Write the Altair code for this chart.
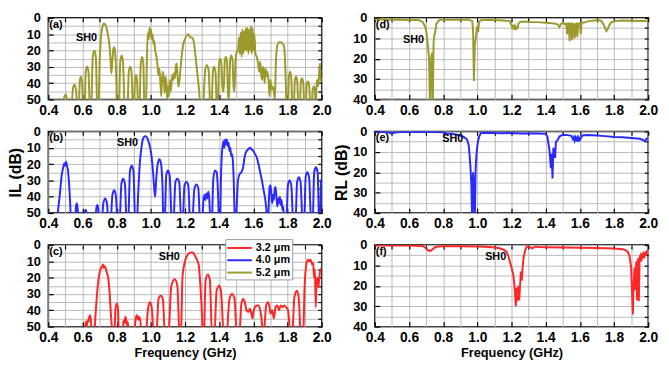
import altair as alt
import pandas as pd

FONT = "Liberation Sans"
SERIES = ["3.2 μm", "4.0 μm", "5.2 μm"]
COLORS = ["#ff2626", "#2a2aff", "#9d9a2d"]

X_TICKS = [0.4, 0.6, 0.8, 1.0, 1.2, 1.4, 1.6, 1.8, 2.0]
X_MINOR = [0.4, 0.5, 0.6, 0.7, 0.8, 0.9, 1.0, 1.1, 1.2, 1.3, 1.4, 1.5, 1.6, 1.7, 1.8, 1.9, 2.0]
IL_TICKS = [0, 10, 20, 30, 40, 50]
IL_MINOR = [0, 5, 10, 15, 20, 25, 30, 35, 40, 45, 50]
RL_TICKS = [0, 10, 20, 30, 40]
RL_MINOR = [0, 5, 10, 15, 20, 25, 30, 35, 40]

# (a) IL, 5.2 um  -- (frequency GHz, dB)
A_IL = [
    (0.480, 60), (0.495, 48), (0.505, 47), (0.515, 60),
    (0.530, 60), (0.545, 43), (0.553, 41), (0.562, 44), (0.572, 60),
    (0.577, 60), (0.584, 39), (0.590, 36), (0.597, 39), (0.606, 60),
    (0.611, 60), (0.619, 33), (0.627, 30), (0.635, 33), (0.645, 60),
    (0.650, 60), (0.660, 24), (0.670, 20), (0.678, 24), (0.688, 60),
    (0.693, 60), (0.700, 28), (0.708, 12), (0.716, 6), (0.724, 3.5), (0.732, 4), (0.740, 6),
    (0.748, 10), (0.756, 15), (0.763, 24), (0.769, 34), (0.775, 26), (0.781, 19), (0.786, 18),
    (0.792, 22), (0.798, 38), (0.803, 60),
    (0.812, 60), (0.821, 27), (0.829, 23), (0.837, 27), (0.848, 60),
    (0.862, 60), (0.871, 33), (0.879, 30), (0.887, 33), (0.897, 60),
    (0.901, 60), (0.907, 38), (0.913, 35), (0.919, 38), (0.928, 60),
    (0.932, 60), (0.941, 28), (0.949, 24), (0.956, 28), (0.964, 60),
    (0.970, 60), (0.977, 25), (0.983, 9), (0.988, 13), (0.992, 6), (0.996, 11), (1.000, 7),
    (1.005, 13), (1.010, 10), (1.015, 16), (1.020, 14), (1.025, 20), (1.030, 22), (1.038, 28),
    (1.044, 35), (1.050, 31), (1.056, 40), (1.061, 48), (1.066, 37), (1.071, 33), (1.076, 38),
    (1.081, 46), (1.086, 36), (1.091, 40), (1.096, 50), (1.101, 42), (1.106, 48), (1.111, 38),
    (1.116, 45), (1.121, 40), (1.126, 35), (1.131, 38), (1.136, 34), (1.141, 37), (1.146, 30),
    (1.151, 28), (1.156, 35), (1.161, 42), (1.166, 40), (1.172, 33), (1.180, 24), (1.190, 16),
    (1.200, 13), (1.210, 11), (1.220, 10), (1.230, 12), (1.240, 12), (1.250, 14), (1.258, 20),
    (1.265, 27), (1.274, 36), (1.283, 45), (1.292, 60),
    (1.302, 60), (1.318, 32), (1.328, 29), (1.338, 32), (1.350, 60),
    (1.354, 60), (1.363, 33), (1.370, 30), (1.378, 33), (1.388, 60),
    (1.391, 60), (1.399, 28), (1.406, 25), (1.413, 28), (1.420, 45),
    (1.426, 45), (1.433, 26), (1.439, 24), (1.446, 27), (1.452, 50),
    (1.457, 50), (1.464, 26), (1.471, 23), (1.478, 26), (1.485, 45),
    (1.489, 45), (1.496, 25), (1.502, 21), (1.510, 20), (1.516, 12), (1.521, 22), (1.526, 9),
    (1.531, 24), (1.536, 7), (1.541, 22), (1.546, 8), (1.551, 20), (1.556, 6), (1.561, 20),
    (1.566, 6), (1.571, 22), (1.576, 7), (1.581, 20), (1.586, 5), (1.591, 22), (1.596, 6),
    (1.601, 20), (1.606, 10), (1.612, 22), (1.620, 24), (1.628, 28), (1.634, 33), (1.640, 27),
    (1.646, 35), (1.651, 38), (1.656, 30), (1.661, 33), (1.666, 40), (1.671, 31), (1.676, 36),
    (1.682, 33), (1.690, 40), (1.695, 48), (1.700, 38), (1.706, 44), (1.712, 42), (1.720, 45),
    (1.726, 50), (1.731, 30), (1.736, 20), (1.743, 16), (1.752, 15), (1.762, 15), (1.771, 16),
    (1.779, 17), (1.785, 25), (1.790, 40), (1.795, 60),
    (1.801, 60), (1.808, 36), (1.815, 33), (1.822, 37), (1.830, 60),
    (1.835, 60), (1.843, 38), (1.850, 36), (1.857, 39), (1.865, 60),
    (1.870, 60), (1.878, 39), (1.885, 37), (1.892, 40), (1.900, 60),
    (1.905, 60), (1.912, 41), (1.920, 39), (1.927, 42), (1.935, 60),
    (1.940, 60), (1.947, 44), (1.954, 42), (1.960, 45), (1.965, 55), (1.970, 40), (1.975, 38),
    (1.980, 42), (1.985, 33), (1.990, 28), (1.995, 39), (2.000, 37),
]

# (b) IL, 4.0 um
B_IL = [
    (0.440, 60), (0.455, 50), (0.468, 38), (0.478, 27), (0.487, 22), (0.494, 19.5), (0.499, 21),
    (0.504, 18.5), (0.509, 21), (0.514, 23), (0.520, 30), (0.528, 44), (0.535, 60),
    (0.555, 60), (0.562, 46), (0.567, 44), (0.572, 48), (0.578, 60),
    (0.600, 60), (0.612, 50), (0.618, 48), (0.624, 50), (0.630, 60),
    (0.674, 60), (0.681, 47), (0.687, 45), (0.693, 48), (0.700, 60),
    (0.710, 60), (0.722, 44), (0.733, 41), (0.743, 44), (0.755, 60),
    (0.762, 60), (0.775, 39), (0.785, 36), (0.795, 39), (0.808, 60),
    (0.815, 60), (0.828, 32), (0.838, 29), (0.848, 32), (0.860, 60),
    (0.866, 60), (0.878, 24), (0.888, 21), (0.898, 24), (0.910, 60),
    (0.916, 60), (0.926, 38), (0.936, 19), (0.946, 9), (0.956, 4), (0.966, 3), (0.976, 3.5),
    (0.986, 6), (0.996, 10), (1.005, 16), (1.013, 25), (1.019, 34), (1.025, 40),
    (1.031, 30), (1.040, 20), (1.050, 17), (1.060, 20), (1.068, 33), (1.075, 60),
    (1.080, 60), (1.090, 27), (1.100, 24), (1.110, 27), (1.125, 60),
    (1.130, 60), (1.144, 31), (1.155, 29), (1.166, 31), (1.180, 60),
    (1.185, 60), (1.197, 33), (1.208, 31), (1.219, 33), (1.232, 60),
    (1.240, 60), (1.255, 35), (1.267, 32.5), (1.278, 35), (1.290, 60),
    (1.298, 60), (1.308, 42), (1.314, 39), (1.320, 42), (1.325, 38), (1.330, 41), (1.336, 37),
    (1.341, 40), (1.346, 50), (1.351, 60),
    (1.356, 60), (1.365, 30), (1.375, 24), (1.385, 25), (1.394, 40), (1.400, 60),
    (1.405, 60), (1.410, 30), (1.415, 15), (1.420, 9), (1.425, 6), (1.430, 10), (1.435, 5),
    (1.440, 8), (1.445, 5), (1.450, 9), (1.455, 7), (1.460, 12), (1.465, 10), (1.470, 15),
    (1.475, 14), (1.480, 18), (1.485, 30), (1.490, 50), (1.495, 60),
    (1.501, 50), (1.510, 30), (1.520, 26), (1.530, 25), (1.540, 22), (1.550, 15), (1.560, 12),
    (1.570, 11), (1.580, 10), (1.590, 11), (1.600, 12), (1.610, 14), (1.620, 16), (1.630, 20),
    (1.640, 25), (1.650, 30), (1.660, 36), (1.670, 42), (1.678, 50), (1.684, 60),
    (1.690, 45), (1.695, 34), (1.700, 33), (1.705, 38), (1.710, 44), (1.715, 39), (1.720, 42),
    (1.725, 35), (1.730, 34), (1.735, 40), (1.740, 46), (1.745, 41), (1.750, 44), (1.755, 40),
    (1.760, 45), (1.765, 42), (1.770, 48), (1.775, 46), (1.780, 55), (1.785, 60),
    (1.792, 60), (1.802, 33), (1.812, 30), (1.822, 33), (1.835, 60),
    (1.845, 60), (1.856, 31), (1.866, 28), (1.876, 31), (1.890, 60),
    (1.896, 60), (1.906, 28), (1.916, 25), (1.926, 28), (1.940, 60),
    (1.946, 60), (1.956, 25), (1.966, 22), (1.976, 25), (1.986, 60),
    (1.990, 60), (1.996, 31), (2.000, 29),
]

# (c) IL, 3.2 um
C_IL = [
    (0.600, 60), (0.615, 50), (0.620, 47), (0.625, 50), (0.630, 46), (0.635, 47), (0.640, 44),
    (0.645, 43), (0.650, 47), (0.655, 55), (0.660, 60),
    (0.665, 60), (0.675, 45), (0.685, 30), (0.695, 20), (0.705, 15), (0.715, 13), (0.720, 12),
    (0.725, 14), (0.730, 13), (0.740, 16), (0.750, 20), (0.757, 27), (0.765, 40), (0.775, 55),
    (0.780, 60),
    (0.785, 60), (0.793, 39), (0.800, 36), (0.807, 38), (0.815, 60),
    (0.830, 60), (0.840, 46), (0.845, 48), (0.852, 44), (0.860, 49), (0.865, 47), (0.872, 55),
    (0.900, 60), (0.910, 46), (0.918, 43), (0.925, 46), (0.930, 44), (0.938, 46), (0.945, 55),
    (0.965, 60), (0.985, 38), (0.995, 35), (1.005, 38), (1.020, 60),
    (1.030, 60), (1.045, 33), (1.058, 31), (1.070, 33), (1.085, 60),
    (1.100, 60), (1.120, 25), (1.140, 21), (1.155, 25), (1.170, 60),
    (1.175, 60), (1.185, 20), (1.195, 12), (1.210, 7), (1.225, 5), (1.240, 4.5), (1.250, 5),
    (1.265, 8), (1.280, 12), (1.290, 25), (1.300, 45), (1.305, 60),
    (1.310, 60), (1.320, 22), (1.333, 18), (1.345, 21), (1.360, 60),
    (1.370, 60), (1.385, 28), (1.400, 25), (1.410, 28), (1.430, 60),
    (1.440, 60), (1.460, 33), (1.475, 30), (1.490, 33), (1.505, 60),
    (1.515, 60), (1.530, 36), (1.540, 33), (1.550, 35), (1.560, 40), (1.570, 41), (1.580, 39),
    (1.590, 43), (1.595, 45), (1.600, 41), (1.610, 38), (1.620, 37), (1.630, 37), (1.640, 40),
    (1.650, 48), (1.655, 60),
    (1.665, 50), (1.675, 37), (1.685, 35), (1.695, 38), (1.700, 42), (1.710, 40), (1.720, 45),
    (1.730, 38), (1.740, 37), (1.750, 40), (1.760, 37), (1.770, 38), (1.780, 37), (1.790, 38),
    (1.800, 39), (1.810, 48), (1.815, 60),
    (1.825, 60), (1.840, 32), (1.855, 28), (1.865, 32), (1.880, 60),
    (1.890, 60), (1.900, 25), (1.910, 12), (1.920, 9), (1.930, 10), (1.935, 9), (1.945, 12),
    (1.950, 11), (1.955, 20), (1.960, 15), (1.965, 38), (1.970, 22), (1.975, 20), (1.980, 26),
    (1.990, 16), (2.000, 14),
]

# (d) RL, 5.2 um
D_RL = [
    (0.40, 0.8), (0.45, 0.8), (0.50, 0.9), (0.55, 0.8), (0.60, 1.2), (0.63, 1.0), (0.66, 1.2),
    (0.68, 2.0), (0.69, 3.5), (0.70, 6.0), (0.705, 9), (0.712, 15), (0.717, 19), (0.723, 45),
    (0.730, 20), (0.735, 17), (0.739, 45), (0.744, 12), (0.748, 9), (0.755, 6), (0.760, 3),
    (0.770, 1.6), (0.780, 1.0), (0.80, 0.9), (0.85, 1.0), (0.90, 0.9), (0.95, 1.0), (0.97, 1.5),
    (0.975, 6), (0.980, 31), (0.985, 14), (0.990, 10), (0.995, 6.5), (1.000, 4), (1.005, 7),
    (1.010, 2), (1.02, 1.2), (1.05, 1.0), (1.10, 1.1), (1.15, 1.3), (1.19, 1.6), (1.200, 3.5),
    (1.205, 5.5), (1.210, 3.5), (1.215, 5), (1.220, 4), (1.225, 6), (1.230, 4), (1.235, 5.5),
    (1.240, 3), (1.25, 2), (1.28, 1.8), (1.30, 2.0), (1.35, 2.1), (1.40, 2.4), (1.45, 2.8),
    (1.47, 3.2), (1.48, 4.5), (1.49, 3.0), (1.50, 2.5), (1.51, 3.0), (1.52, 2.8), (1.525, 8),
    (1.530, 3), (1.535, 2.8), (1.540, 11.5), (1.545, 3), (1.550, 2.8), (1.555, 11), (1.560, 3),
    (1.565, 3.2), (1.570, 10), (1.575, 3), (1.580, 2.8), (1.585, 9.5), (1.590, 3), (1.600, 2.6),
    (1.605, 8), (1.610, 2.5), (1.63, 2.2), (1.65, 1.6), (1.70, 1.2), (1.72, 1.3), (1.73, 2.0),
    (1.74, 3.5), (1.75, 5.5), (1.755, 6.5), (1.76, 6), (1.77, 4), (1.78, 2.5), (1.80, 1.6),
    (1.85, 1.3), (1.90, 1.4), (1.95, 1.5), (2.00, 1.5),
]

# (e) RL, 4.0 um
E_RL = [
    (0.40, 0.3), (0.45, 0.3), (0.48, 0.4), (0.50, 1.1), (0.52, 0.5), (0.55, 0.3), (0.60, 0.3),
    (0.65, 0.3), (0.70, 0.3), (0.75, 0.3), (0.80, 0.4), (0.82, 1.0), (0.85, 1.1), (0.88, 1.6),
    (0.90, 2.0), (0.92, 2.7), (0.94, 4), (0.950, 7), (0.955, 12), (0.960, 18), (0.965, 26),
    (0.970, 45), (0.975, 20), (0.980, 26), (0.985, 45), (0.990, 18), (0.995, 11), (1.000, 7),
    (1.005, 4.5), (1.010, 2.7), (1.02, 0.8), (1.05, 0.6), (1.10, 0.8), (1.15, 0.9), (1.20, 0.8),
    (1.25, 1.0), (1.30, 1.0), (1.35, 1.0), (1.40, 1.2), (1.410, 2.5), (1.420, 8), (1.425, 12),
    (1.430, 18), (1.435, 11), (1.440, 23), (1.445, 8), (1.450, 10), (1.455, 13), (1.460, 5),
    (1.470, 4.3), (1.480, 2.5), (1.50, 1.6), (1.53, 1.8), (1.55, 2.2), (1.560, 3.8), (1.565, 2.8),
    (1.570, 4.5), (1.575, 3), (1.580, 4), (1.585, 3), (1.590, 5), (1.595, 3.2), (1.600, 4.2),
    (1.61, 2.5), (1.62, 1.9), (1.65, 1.8), (1.70, 2.0), (1.75, 2.3), (1.80, 2.7), (1.85, 2.9),
    (1.90, 3.2), (1.95, 3.6), (1.97, 4.2), (1.98, 4.8), (1.99, 3.5), (2.00, 3.4),
]

# (f) RL, 3.2 um
F_RL = [
    (0.40, 0.3), (0.50, 0.3), (0.60, 0.3), (0.68, 0.5), (0.70, 1.6), (0.71, 2.4), (0.72, 3.0),
    (0.73, 2.6), (0.74, 2.0), (0.75, 1.2), (0.77, 0.7), (0.80, 0.6), (0.90, 0.6), (1.00, 0.7),
    (1.05, 0.9), (1.10, 1.2), (1.13, 1.6), (1.15, 2.2), (1.17, 3.2), (1.18, 5), (1.19, 8),
    (1.20, 11), (1.210, 14.5), (1.215, 18), (1.220, 23), (1.225, 30), (1.230, 21), (1.235, 27.5),
    (1.240, 20), (1.245, 27), (1.250, 20), (1.255, 13), (1.260, 17.5), (1.265, 11), (1.270, 6.5),
    (1.28, 2.5), (1.29, 0.7), (1.30, 0.6), (1.32, 1.6), (1.34, 0.8), (1.36, 1.0), (1.40, 1.1),
    (1.50, 1.2), (1.60, 1.3), (1.70, 1.5), (1.80, 1.7), (1.85, 2.1), (1.87, 2.6), (1.88, 3.4),
    (1.89, 5), (1.900, 11), (1.905, 22), (1.910, 34), (1.915, 19), (1.920, 11), (1.925, 22),
    (1.930, 8), (1.935, 27), (1.940, 6.5), (1.945, 27.5), (1.950, 6), (1.955, 5), (1.960, 8),
    (1.965, 5), (1.970, 4.2), (1.975, 6.5), (1.980, 3.5), (1.985, 5.5), (1.990, 3.1), (2.000, 3.4),
]

W, H = 278, 83
LEGEND_LINE = "M-2.08,0H2.08"


def to_frame(points, series):
    return pd.DataFrame({
        "i": list(range(len(points))),
        "f": [p[0] for p in points],
        "v": [p[1] for p in points],
        "s": [series] * len(points),
    })


def panel(points, sidx, ymax, yticks, yminor, letter, sh, interp,
          xtitle=None, ytitle=None, legend=False):
    xs = alt.Scale(domain=[0.4, 2.0], nice=False, zero=False)
    ys = alt.Scale(domain=[0, ymax], reverse=True, nice=False, zero=False)

    xax = dict(values=X_TICKS, format=".1f", grid=False, domain=False, tickSize=5,
               offset=-5, labelPadding=4, labelFontSize=14, labelFlush=False)
    if xtitle:
        xax.update(title=xtitle, titleFontSize=13, titlePadding=2)
    else:
        xax["title"] = None
    yax = dict(values=yticks, format="d", grid=False, domain=False, tickSize=5,
               offset=-5, labelPadding=8, labelFontSize=13, labelFlush=False)
    if ytitle:
        yax.update(title=ytitle, titleFontSize=16, titlePadding=3)
    else:
        yax["title"] = None

    df = to_frame(points, SERIES[sidx])
    enc = dict(
        x=alt.X("f:Q", scale=xs, axis=alt.Axis(**xax)),
        y=alt.Y("v:Q", scale=ys, axis=alt.Axis(**yax)),
        order="i:Q",
    )
    if legend:
        line = alt.Chart(df).mark_line(clip=True, strokeWidth=2, interpolate=interp).encode(
            color=alt.Color(
                "s:N",
                scale=alt.Scale(domain=SERIES, range=COLORS),
                legend=alt.Legend(
                    title=None, orient="none", legendX=180, legendY=-6,
                    symbolType=LEGEND_LINE, symbolSize=144, symbolStrokeWidth=2,
                    symbolOffset=5.5,
                    labelFont=FONT, labelFontWeight="bold", labelFontSize=11,
                    labelColor="black", fillColor="white", strokeColor="#9a9a9a",
                    padding=2, rowPadding=0.5, labelOffset=9.5,
                ),
            ),
            **enc,
        )
    else:
        line = alt.Chart(df).mark_line(
            clip=True, strokeWidth=2, interpolate=interp, color=COLORS[sidx]
        ).encode(**enc)

    top_ax = alt.Axis(orient="top", values=X_MINOR, grid=True, labels=False, domain=False,
                      tickSize=4, offset=-4, title=None)
    right_ax = alt.Axis(orient="right", values=yminor, grid=True, labels=False, domain=False,
                        tickSize=4, offset=-4, title=None)
    sh_df = pd.DataFrame({"f": [sh[0]], "v": [sh[1]], "t": ["SH0"]})
    shl = alt.Chart(sh_df).mark_text(
        font=FONT, fontWeight="bold", fontSize=11, color="black"
    ).encode(
        x=alt.X("f:Q", scale=xs, axis=top_ax),
        y=alt.Y("v:Q", scale=ys, axis=right_ax),
        text="t:N",
    )
    lt_df = pd.DataFrame({"f": [0.4], "v": [0], "t": [f"({letter})"]})
    ltl = alt.Chart(lt_df).mark_text(
        font=FONT, fontWeight="bold", fontSize=11, color="black",
        align="left", baseline="top", dx=1, dy=1,
    ).encode(
        x=alt.X("f:Q", scale=xs, axis=None),
        y=alt.Y("v:Q", scale=ys, axis=None),
        text="t:N",
    )
    return alt.layer(line, shl, ltl).resolve_axis(
        x="independent", y="independent"
    ).properties(width=W, height=H)


pa = panel(A_IL, 2, 50, IL_TICKS, IL_MINOR, "a", (0.624, 12.5), "monotone")
pb = panel(B_IL, 1, 50, IL_TICKS, IL_MINOR, "b", (0.863, 7.3), "monotone", ytitle="IL (dB)")
pc = panel(C_IL, 0, 50, IL_TICKS, IL_MINOR, "c", (1.108, 7.6), "monotone",
           xtitle="Frequency (GHz)", legend=True)
pd_ = panel(D_RL, 2, 40, RL_TICKS, RL_MINOR, "d", (0.626, 10.7), "linear")
pe = panel(E_RL, 1, 40, RL_TICKS, RL_MINOR, "e", (0.856, 3.6), "linear", ytitle="RL (dB)")
pf = panel(F_RL, 0, 40, RL_TICKS, RL_MINOR, "f", (1.107, 6.1), "linear",
           xtitle="Frequency (GHz)")

chart = alt.concat(
    pa, pd_, pb, pe, pc, pf,
    columns=2, spacing={"row": 32.5, "column": 54}, bounds="flush",
).resolve_scale(color="independent").properties(
    padding={"left": -2, "top": 0, "right": 2, "bottom": 2}
).configure_view(
    stroke="black", strokeWidth=1.5
).configure_axis(
    labelFont=FONT, labelFontWeight="bold", labelColor="black",
    titleFont=FONT, titleFontWeight="bold", titleColor="black",
    tickColor="black", tickWidth=1.2, gridColor="#b9b9b9", gridWidth=1,
)

chart.save("out.html", embed_options={"renderer": "svg", "actions": False})
